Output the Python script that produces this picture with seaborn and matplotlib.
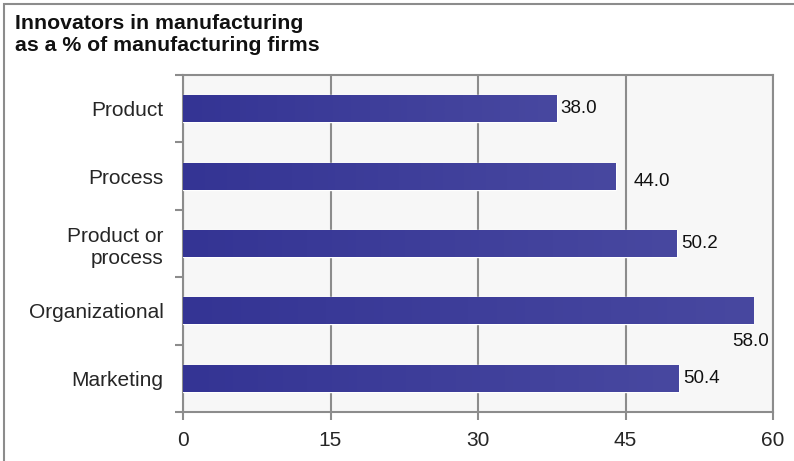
import numpy as np
import pandas as pd
import seaborn as sns
import matplotlib.pyplot as plt
from matplotlib.colors import LinearSegmentedColormap
from matplotlib.patches import Rectangle

categories = ["Product", "Process", "Product or\nprocess", "Organizational", "Marketing"]
values = [38.0, 44.0, 50.2, 58.0, 50.4]
x_ticks = [0, 15, 30, 45, 60]

# label offsets in points (dx, dy, ha, va) to mimic the original placement
label_style = [
    (3, 0, "left", "center"),
    (13, -4, "left", "center"),
    (3, 0, "left", "center"),
    (11, -22, "right", "center"),
    (3, 0, "left", "center"),
]

df = pd.DataFrame({"category": categories, "value": values})

sns.set_theme(style="white")
plt.rcParams["font.family"] = ["Liberation Sans", "DejaVu Sans"]

fig = plt.figure(figsize=(7.94, 4.61), dpi=100)
ax = fig.add_axes([183 / 794, 1 - 412 / 461, 590 / 794, 337 / 461])
ax.set_facecolor("#f7f7f7")

sns.barplot(data=df, x="value", y="category", orient="h", color="#3d3d9a",
            width=0.4, saturation=1, ax=ax, zorder=3)

grad = LinearSegmentedColormap.from_list("bar", ["#343494", "#4848a0"])
for p in ax.patches:
    x0, y0 = p.get_x(), p.get_y()
    ax.imshow(np.linspace(0, 1, 256).reshape(1, -1), cmap=grad, aspect="auto",
              extent=(x0, x0 + p.get_width(), y0, y0 + p.get_height()), zorder=4)

for i, (v, (dx, dy, ha, va)) in enumerate(zip(values, label_style)):
    ax.annotate(f"{v:.1f}", xy=(v, i), xytext=(dx, dy), textcoords="offset points",
                ha=ha, va=va, fontsize=13.5, color="#111111", zorder=5)

ax.set_xlim(0, 60)
ax.set_ylim(4.5, -0.5)
ax.set_xticks(x_ticks)
ax.set_xticklabels([str(t) for t in x_ticks], fontsize=15)
ax.set_yticks(range(len(categories)))
ax.set_yticklabels(categories, fontsize=15, linespacing=1.2)
ax.set_yticks(np.arange(-0.5, 5, 1), minor=True)
ax.tick_params(axis="y", which="major", length=0, pad=14)
ax.tick_params(axis="y", which="minor", length=6, width=1.5, color="#8c8c8c", left=True)
ax.tick_params(axis="x", length=6, width=1.5, color="#8c8c8c", bottom=True, pad=8)
ax.set_xlabel("")
ax.set_ylabel("")
ax.grid(axis="x", color="#8c8c8c", linewidth=1.5, zorder=1)
ax.set_axisbelow(True)
for s in ax.spines.values():
    s.set_color("#8c8c8c")
    s.set_linewidth(1.5)

fig.text(15 / 794, 1 - 14 / 461, "Innovators in manufacturing\nas a % of manufacturing firms",
         ha="left", va="top", fontsize=15.3, fontweight="bold", linespacing=1.22, color="#111111")

fig.patches.append(Rectangle((4 / 794, -0.5), 2, 1.5 - 4 / 461, transform=fig.transFigure,
                             fill=False, edgecolor="#8c8c8c", linewidth=1.5))

fig.savefig("out.png", dpi=100)
